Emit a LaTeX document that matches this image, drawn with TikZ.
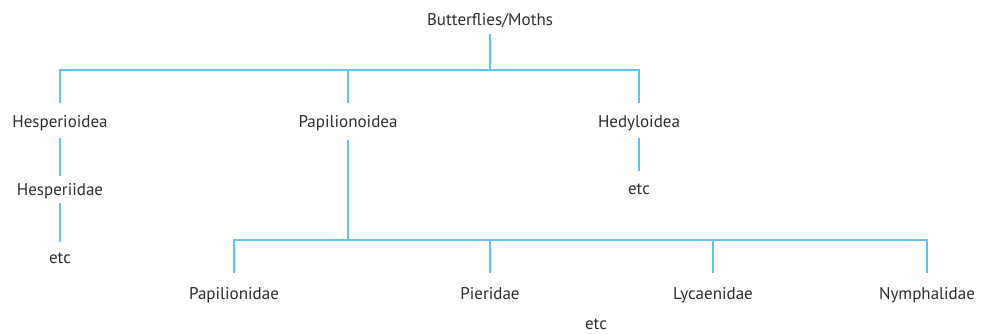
\documentclass[tikz,border=0pt]{standalone}
\usepackage{fontspec}
\setmainfont{PT Sans}
\definecolor{lineblue}{RGB}{100,192,240}
\definecolor{txtgray}{RGB}{45,45,45}
\begin{document}
\begin{tikzpicture}[x=1pt,y=1pt,
  lbl/.style={anchor=base, font=\fontsize{17}{20}\selectfont, text=txtgray, inner sep=0pt},
  link/.style={draw=lineblue, line width=1.5pt}]
\useasboundingbox (0,0) rectangle (985,-333);
% labels
\node[lbl] (root)   at (490,-25)  {Butterflies/Moths};
\node[lbl] (hesp)   at (60,-127)  {Hesperioidea};
\node[lbl] (papi)   at (348,-127) {Papilionoidea};
\node[lbl] (hedy)   at (639,-127) {Hedyloidea};
\node[lbl] (hespii) at (60,-195)  {Hesperiidae};
\node[lbl] (etcA)   at (60,-263)  {etc};
\node[lbl] (etcB)   at (639,-194) {etc};
\node[lbl] (papid)  at (234,-299) {Papilionidae};
\node[lbl] (pier)   at (490,-299) {Pieridae};
\node[lbl] (lyc)    at (713,-299) {Lycaenidae};
\node[lbl] (nymph)  at (927,-299) {Nymphalidae};
\node[lbl] (etcC)   at (596,-329) {etc};
% junctions
\coordinate (j1) at (490,-70);
\coordinate (j2) at (348,-240);
% connectors
\draw[link] ([yshift=-9pt]root.base) -- (j1);
\draw[link] ([yshift=24pt]hesp.base) |- (j1) -| ([yshift=24pt]hedy.base);
\draw[link] (j1 -| papi.base) -- ([yshift=24pt]papi.base);
\draw[link] ([yshift=-11pt]hesp.base) -- ([yshift=19pt]hespii.base);
\draw[link] ([yshift=-8pt]hespii.base) -- ([yshift=21pt]etcA.base);
\draw[link] ([yshift=-11pt]hedy.base) -- ([yshift=23pt]etcB.base);
\draw[link] ([yshift=-13pt]papi.base) -- (j2);
\draw[link] ([yshift=26pt]papid.base) |- (j2) -| ([yshift=26pt]nymph.base);
\draw[link] (j2 -| pier.base) -- ([yshift=26pt]pier.base);
\draw[link] (j2 -| lyc.base) -- ([yshift=26pt]lyc.base);
\end{tikzpicture}
\end{document}
